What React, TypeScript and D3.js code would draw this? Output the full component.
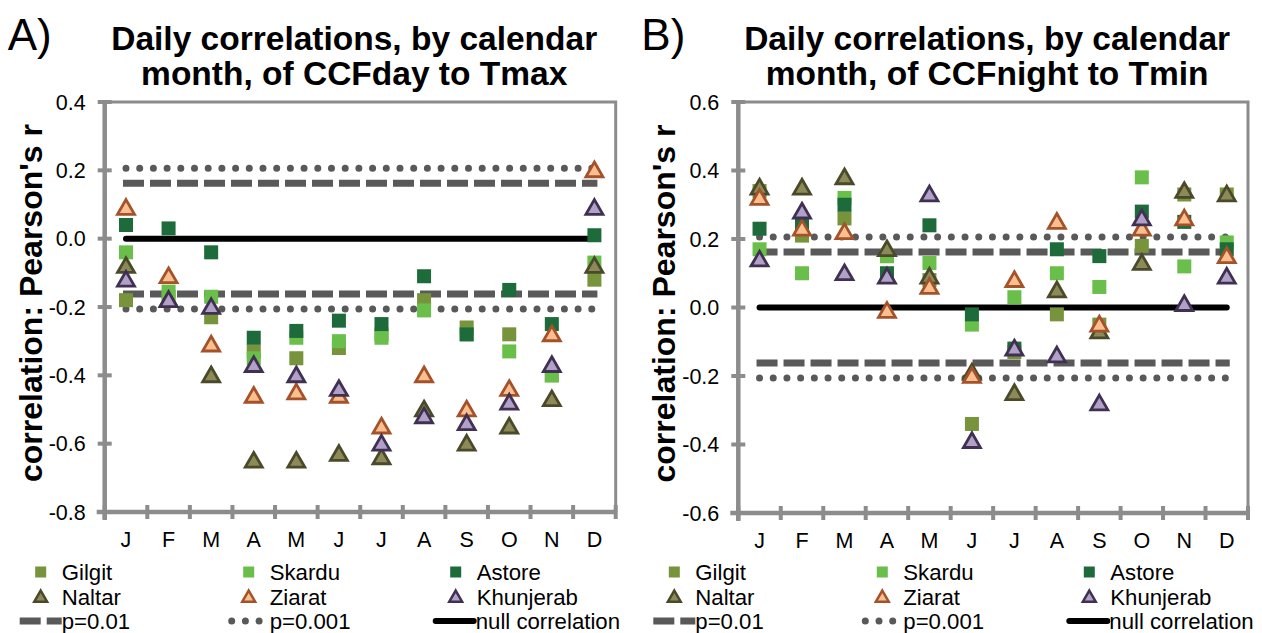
import { useEffect, useRef } from "react";
import * as d3 from "d3";

// Month labels (index used as band key since labels repeat)
const MONTHS = ["J", "F", "M", "A", "M", "J", "J", "A", "S", "O", "N", "D"];
const STATIONS = ["Gilgit", "Skardu", "Astore", "Naltar", "Ziarat", "Khunjerab"];

// Panel A: CCFday vs Tmax
const A_GILGIT = [-0.18, -0.17, -0.23, -0.33, -0.35, -0.32, -0.28, -0.18, -0.26, -0.28, -0.4, -0.12];
const A_SKARDU = [-0.04, -0.155, -0.17, -0.35, -0.29, -0.3, -0.29, -0.21, -0.28, -0.33, -0.4, -0.07];
const A_ASTORE = [0.04, 0.03, -0.04, -0.29, -0.27, -0.24, -0.25, -0.11, -0.28, -0.15, -0.25, 0.01];
const A_NALTAR = [-0.08, -0.18, -0.4, -0.65, -0.65, -0.63, -0.64, -0.5, -0.6, -0.55, -0.47, -0.08];
const A_ZIARAT = [0.09, -0.11, -0.31, -0.46, -0.45, -0.46, -0.55, -0.4, -0.5, -0.44, -0.28, 0.2];
const A_KHUNJERAB = [-0.12, -0.18, -0.2, -0.37, -0.4, -0.44, -0.6, -0.52, -0.54, -0.48, -0.37, 0.09];

// Panel B: CCFnight vs Tmin
const B_GILGIT = [0.34, 0.21, 0.26, 0.15, 0.08, -0.34, -0.13, -0.02, -0.05, 0.18, 0.33, 0.33];
const B_SKARDU = [0.17, 0.1, 0.32, 0.15, 0.13, -0.05, 0.03, 0.1, 0.06, 0.38, 0.12, 0.19];
const B_ASTORE = [0.23, 0.24, 0.3, 0.1, 0.24, -0.02, -0.12, 0.17, 0.15, 0.28, 0.25, 0.17];
const B_NALTAR = [0.35, 0.35, 0.38, 0.17, 0.09, -0.19, -0.25, 0.05, -0.07, 0.13, 0.34, 0.33];
const B_ZIARAT = [0.32, 0.23, 0.22, -0.01, 0.06, -0.2, 0.08, 0.25, -0.05, 0.23, 0.26, 0.15];
const B_KHUNJERAB = [0.14, 0.28, 0.1, 0.09, 0.33, -0.39, -0.12, -0.14, -0.28, 0.26, 0.01, 0.09];

// Significance thresholds
const P01 = 0.162;
const P001 = 0.206;

const Y_TICKS_A = [0.4, 0.2, 0, -0.2, -0.4, -0.6, -0.8];
const Y_TICKS_B = [0.6, 0.4, 0.2, 0, -0.2, -0.4, -0.6];

const FONT = "'Liberation Sans', Arial, sans-serif";
const AXIS = "#8c8c8c";
const REF = "#595959";

const MARKERS = {
  Gilgit: { shape: "square", fill: "#77933c", stroke: "none" },
  Skardu: { shape: "square", fill: "#6abf4b", stroke: "none" },
  Astore: { shape: "square", fill: "#1d6b3a", stroke: "none" },
  Naltar: { shape: "triangle", fill: "#8c8a58", stroke: "#4a4a2b" },
  Ziarat: { shape: "triangle", fill: "#fbbf8f", stroke: "#a3522a" },
  Khunjerab: { shape: "triangle", fill: "#b1a0c7", stroke: "#403152" },
};

const fmt = (d) => (d === 0 ? "0.0" : d3.format(".1f")(d).replace("−", "-"));

function addText(g, { x, y, text, size, weight = "normal", anchor = "start", rotate = false, dy = 0 }) {
  g.append("text")
    .attr("transform", `translate(${x},${y})${rotate ? " rotate(-90)" : ""}`)
    .attr("text-anchor", anchor)
    .attr("dy", dy)
    .attr("font-family", FONT)
    .attr("font-size", size)
    .attr("font-weight", weight)
    .attr("fill", "#000")
    .text(text);
}

function addMarker(g, name, x, y, small = false) {
  const m = MARKERS[name];
  if (m.shape === "square") {
    const s = small ? 11 : 14;
    g.append("rect")
      .attr("x", x - s / 2)
      .attr("y", y - s / 2)
      .attr("width", s)
      .attr("height", s)
      .attr("fill", m.fill);
  } else {
    g.append("path")
      .attr("transform", `translate(${x},${y + (small ? 1 : 1.5)})`)
      .attr("d", d3.symbol(d3.symbolTriangle, small ? 72 : 125)())
      .attr("fill", m.fill)
      .attr("stroke", m.stroke)
      .attr("stroke-width", small ? 2.5 : 2.8)
      .attr("stroke-linejoin", "miter");
  }
}

function drawPanel(svg, cfg) {
  const { left, right, top, bottom, domain, ticks, series, label, title } = cfg;
  const g = svg.append("g");

  const x = d3.scaleBand().domain(d3.range(12)).range([left, right]);
  const y = d3.scaleLinear().domain(domain).range([bottom, top]);
  const cx = (i) => x(i) + x.bandwidth() / 2;

  // Frame (top and right)
  g.append("path")
    .attr("d", `M${left},${top}H${right}V${bottom}`)
    .attr("fill", "none")
    .attr("stroke", AXIS)
    .attr("stroke-width", 3);

  // Reference lines
  const x1 = cx(0);
  const x2 = cx(11);
  [P01, -P01].forEach((v) => {
    g.append("line")
      .attr("x1", x1 - 3).attr("x2", x2 + 3)
      .attr("y1", y(v)).attr("y2", y(v))
      .attr("stroke", REF).attr("stroke-width", 7)
      .attr("stroke-dasharray", "21 6");
  });
  [P001, -P001].forEach((v) => {
    g.append("line")
      .attr("x1", x1).attr("x2", x2)
      .attr("y1", y(v)).attr("y2", y(v))
      .attr("stroke", REF).attr("stroke-width", 7)
      .attr("stroke-linecap", "round")
      .attr("stroke-dasharray", "0 13.7");
  });
  g.append("line")
    .attr("x1", x1).attr("x2", x2)
    .attr("y1", y(0)).attr("y2", y(0))
    .attr("stroke", "#000").attr("stroke-width", 6)
    .attr("stroke-linecap", "round");

  // Axes
  g.append("line")
    .attr("x1", left).attr("x2", left)
    .attr("y1", top).attr("y2", bottom + 8)
    .attr("stroke", AXIS).attr("stroke-width", 4.5);
  g.append("line")
    .attr("x1", left - 8).attr("x2", right)
    .attr("y1", bottom).attr("y2", bottom)
    .attr("stroke", AXIS).attr("stroke-width", 4.5);
  ticks.forEach((t) => {
    g.append("line")
      .attr("x1", left - 7).attr("x2", left + 7)
      .attr("y1", y(t)).attr("y2", y(t))
      .attr("stroke", AXIS).attr("stroke-width", 4);
    addText(g, { x: left - 19, y: y(t), text: fmt(t), size: 21.5, anchor: "end", dy: "0.36em" });
  });
  d3.range(13).forEach((i) => {
    const xx = i < 12 ? x(i) : right;
    g.append("line")
      .attr("x1", xx).attr("x2", xx)
      .attr("y1", bottom - 7).attr("y2", bottom + 7)
      .attr("stroke", AXIS).attr("stroke-width", 4);
  });
  MONTHS.forEach((m, i) => {
    addText(g, { x: cx(i), y: bottom + 35, text: m, size: 21.5, anchor: "middle" });
  });

  // Points
  STATIONS.forEach((name, k) => {
    series[k].forEach((v, i) => addMarker(g, name, cx(i), y(v)));
  });

  // Titles
  const mid = (left + right) / 2 - 6;
  addText(g, { x: mid, y: 50, text: title[0], size: 33.5, weight: "bold", anchor: "middle" });
  addText(g, { x: mid, y: 85, text: title[1], size: 33.5, weight: "bold", anchor: "middle" });
  addText(g, { x: left - 97, y: 50, text: label, size: 44 });
  addText(g, {
    x: left - 63,
    y: (top + bottom) / 2 - 4,
    text: "correlation: Pearson's r",
    size: 32,
    weight: "bold",
    anchor: "middle",
    rotate: true,
  });

  // Legend
  const cols = [left - 64, left + 144, left + 351];
  const rows = [572, 597, 621];
  const fs = 22.2;
  STATIONS.forEach((name, k) => {
    const c = cols[k % 3];
    const r = rows[Math.floor(k / 3)];
    addMarker(g, name, c, r, true);
    addText(g, { x: c + 21, y: r, text: name, size: fs, dy: "0.36em" });
  });
  const r3 = rows[2];
  g.append("line")
    .attr("x1", left - 85).attr("x2", left - 43)
    .attr("y1", r3).attr("y2", r3)
    .attr("stroke", REF).attr("stroke-width", 7)
    .attr("stroke-dasharray", "21 6");
  addText(g, { x: left - 43, y: r3, text: "p=0.01", size: fs, dy: "0.36em" });
  g.append("line")
    .attr("x1", left + 127).attr("x2", left + 155)
    .attr("y1", r3).attr("y2", r3)
    .attr("stroke", REF).attr("stroke-width", 7)
    .attr("stroke-linecap", "round")
    .attr("stroke-dasharray", "0 13.7");
  addText(g, { x: left + 165, y: r3, text: "p=0.001", size: fs, dy: "0.36em" });
  g.append("line")
    .attr("x1", left + 331).attr("x2", left + 369)
    .attr("y1", r3).attr("y2", r3)
    .attr("stroke", "#000").attr("stroke-width", 6)
    .attr("stroke-linecap", "round");
  addText(g, { x: left + 371, y: r3, text: "null correlation", size: fs, dy: "0.36em" });
}

export default function App() {
  const ref = useRef(null);

  useEffect(() => {
    const svg = d3.select(ref.current);
    svg.selectAll("*").remove();
    svg.append("rect").attr("width", 1262).attr("height", 633).attr("fill", "#fff");

    drawPanel(svg, {
      left: 104.7,
      right: 615.7,
      top: 102,
      bottom: 512,
      domain: [-0.8, 0.4],
      ticks: Y_TICKS_A,
      series: [A_GILGIT, A_SKARDU, A_ASTORE, A_NALTAR, A_ZIARAT, A_KHUNJERAB],
      label: "A)",
      title: ["Daily correlations, by calendar", "month, of CCFday to Tmax"],
    });
    drawPanel(svg, {
      left: 738.3,
      right: 1248,
      top: 102,
      bottom: 513,
      domain: [-0.6, 0.6],
      ticks: Y_TICKS_B,
      series: [B_GILGIT, B_SKARDU, B_ASTORE, B_NALTAR, B_ZIARAT, B_KHUNJERAB],
      label: "B)",
      title: ["Daily correlations, by calendar", "month, of CCFnight to Tmin"],
    });
  }, []);

  return (
    <svg
      ref={ref}
      width={1262}
      height={633}
      style={{ position: "absolute", left: 0, top: 0 }}
    />
  );
}
